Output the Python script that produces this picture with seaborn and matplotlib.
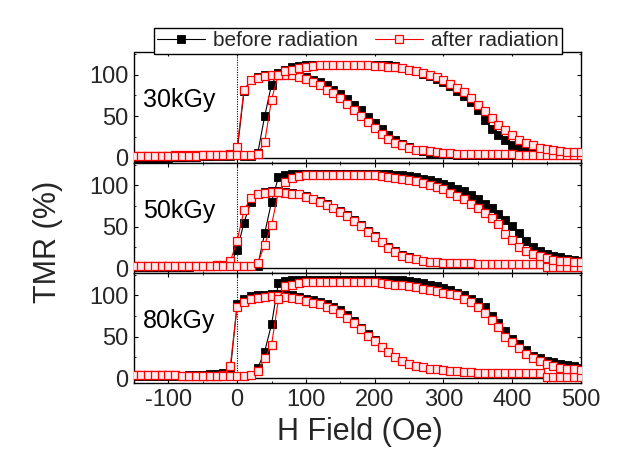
import numpy as np
import pandas as pd
import matplotlib
matplotlib.use("Agg")
import matplotlib.pyplot as plt
from matplotlib.lines import Line2D
from matplotlib.ticker import MultipleLocator
import seaborn as sns

# ---------------- data ----------------
H_field = [-150, -140, -130, -120, -110, -100, -90, -80, -70, -60, -50, -40, -30, -20, -10,
           0, 10, 20, 30, 40, 50, 60, 70, 80, 90, 100, 110, 120, 130, 140, 150, 160, 170, 180, 190,
           200, 210, 220, 230, 240, 250, 260, 270, 280, 290, 300, 310, 320, 330, 340, 350, 360, 370,
           380, 390, 400, 410, 420, 430, 440, 450, 460, 470, 480, 490, 500]

panel_labels = ["30kGy", "50kGy", "80kGy"]
series_labels = ["before radiation", "after radiation"]

# ---- 30 kGy ----
before30_early = [0, 0, 0, 0, 0, 1, 1, 1, 2, 2, 2, 2, 3, 3, 3,
                  8, 80, 93, 97, 99, 100, 101, 101, 100, 99, 97, 94, 91, 87, 82, 77, 71, 64, 57, 49,
                  42, 35, 28, 22, 17, 13, 10, 8, 6.5, 5.5, 5, 4.5, 4, 4, 3.5, 3.5, 3, 3, 3, 3, 3,
                  3, 3, 3, 3, 3, 3, 3, 3, 3, 3]
before30_late = [0, 0, 0, 0, 0, 0, 1, 1, 1, 1, 2, 2, 2, 2, 2,
                 3, 2, 2, 6, 50, 88, 102, 106, 109, 110, 111, 112, 112, 112, 112, 112, 112, 112, 112, 112,
                 112, 112, 111, 110, 108, 106, 104, 101, 98, 95, 91, 86, 80, 74, 67, 58, 46, 35,
                 27, 21.5, 16, 12, 9, 6.5, 5, 4, 3, 3, 3, 3, 3]
after30_early = [2, 2, 2, 2, 2, 2, 3, 3, 3, 3, 4, 4, 4, 4, 5,
                 13, 82, 93, 96, 98, 99, 100, 100, 99, 97, 95, 91, 87, 82, 78, 72, 65, 58, 50, 43,
                 36, 29, 23, 18, 15, 12, 10, 9, 8, 7, 6, 5.5, 5, 5, 5, 5, 5, 4.5,
                 4.5, 4.5, 4.5, 4, 4, 4, 4, 4, 4, 4, 4, 4, 4]
after30_late = [2, 2, 2, 2, 2, 2, 2, 2, 2, 2, 3, 3, 3, 3, 3,
                4, 3, 3, 5, 19, 70, 100, 104, 106, 108, 109, 110, 111, 111, 111, 111, 111, 111, 111, 111,
                110, 110, 109, 109, 108, 106, 104, 102, 100, 97, 93, 89, 84, 79, 72, 64, 56, 48,
                40, 33, 27, 22, 18, 15, 12.5, 11, 9.5, 8.5, 7.5, 7, 7]

# ---- 50 kGy ----
before50_early = [1, 1, 1, 1, 1, 1, 1, 1, 1, 2, 2, 2, 2, 3, 4,
                  22, 55, 80, 89, 92, 93, 93, 92, 91, 90, 87, 84, 81, 77, 73, 69, 64, 58, 52, 45,
                  39, 32, 25, 20, 16, 13, 11, 9, 7.5, 7, 6.5, 6, 5.5, 5.5, 5.5, 5, 5, 5,
                  5, 5, 5, 4.5, 4.5, 4.5, 4.5, 1.5, 1.5, 1.5, 1.5, 1.5, 1.5]
before50_late = [1, 1, 1, 1, 1, 1, 1, 1, 1, 2, 2, 2, 2, 2, 2,
                 2, 2, 2, 3, 42, 80, 110, 113, 114, 114, 114, 114, 114, 114, 114, 114, 114, 114, 114, 114,
                 114, 114, 114, 113, 112, 111, 110, 108, 106, 104, 102, 99, 96, 93, 88, 83, 78, 72,
                 65, 58, 51, 42, 33, 26, 20, 17, 15, 13, 11, 10, 9]
after50_early = [2, 2, 2, 2, 2, 2, 2, 2, 2, 3, 3, 3, 4, 4, 8,
                 33, 70, 85, 89, 91, 92, 92, 91, 90, 89, 86, 83, 80, 76, 72, 68, 63, 57, 51, 44,
                 38, 31, 24, 19, 15, 12.5, 10.5, 9, 7.5, 7, 6.5, 6, 5.5, 5.5, 5.5, 5, 5, 5,
                 5, 5, 5, 4.5, 4.5, 4.5, 4.5, 1.5, 1.5, 1.5, 1.5, 1.5, 1.5]
after50_late = [2, 2, 2, 2, 2, 2, 2, 2, 2, 3, 3, 3, 3, 3, 3,
                3, 3, 3, 6, 28, 52, 92, 104, 109, 111, 112, 112, 112, 112, 112, 112, 112, 112, 112, 112,
                112, 111, 110, 109, 108, 107, 105, 103, 101, 98, 95, 91, 87, 83, 78, 73, 67, 60,
                53, 41, 34, 26, 21, 17, 14, 12, 10, 9, 8.5, 7.5, 7]

# ---- 80 kGy ----
before80_early = [3, 3, 3, 3, 3, 3, 3, 3, 4, 4, 4, 5, 5, 6, 8,
                  90, 96, 99, 100, 101, 102, 102, 101, 100, 98, 96, 94, 92, 89, 86, 82, 76, 69, 61, 53,
                  46, 38, 32, 26, 21, 17.5, 15, 13, 11.5, 10.5, 9.5, 8.5, 8, 7.5, 7, 6.5, 6, 6,
                  6, 5.5, 5.5, 5.5, 5.5, 5.5, 5.5, 1.5, 1.5, 1.5, 1.5, 1.5, 1.5]
before80_late = [3, 3, 3, 3, 3, 3, 3, 3, 3, 3, 3, 3, 3, 3, 3,
                 3, 3, 4, 12, 32, 65, 115, 117, 119, 119, 119, 119, 119, 119, 119, 119, 119, 119, 119, 119,
                 119, 119, 119, 119, 118, 117, 116, 115, 113, 111, 109, 106, 103, 100, 96, 92, 86, 75,
                 67, 57, 47, 41, 34, 27, 24, 21, 19, 17.5, 16, 14, 12]
after80_early = [4, 4, 4, 4, 4, 4, 4, 3, 3, 3, 3, 3, 3, 4, 15,
                 86, 92, 96, 97, 98, 99, 99, 98, 97, 95, 93, 91, 89, 86, 83, 79, 73, 66, 59, 51,
                 45, 37, 31, 25, 20, 17, 15, 13, 11.5, 10.5, 9.5, 8.5, 8, 7.5, 7, 6.5, 6, 6,
                 6, 5.5, 5.5, 5.5, 5.5, 5.5, 5.5, 1.5, 1.5, 1.5, 1.5, 1.5, 1.5]
after80_late = [4, 4, 4, 4, 4, 4, 4, 3, 3, 3, 3, 3, 3, 3, 3,
                3, 3, 4, 8, 24, 40, 95, 111, 113, 115, 116, 116, 116, 116, 116, 116, 116, 116, 116, 116,
                116, 115, 114, 113, 112, 111, 110, 108, 107, 105, 103, 102, 100, 96, 92, 86, 79, 70,
                62, 50, 43, 36, 29, 24, 20, 17, 14.5, 12, 11, 10.5, 10]

panels = [
    (before30_early, before30_late, after30_early, after30_late),
    (before50_early, before50_late, after50_early, after50_late),
    (before80_early, before80_late, after80_early, after80_late),
]
for p in panels:
    for arr in p:
        assert len(arr) == len(H_field), len(arr)

# ---------------- style ----------------
sns.set_style("ticks")
plt.rcParams["font.family"] = ["Liberation Sans", "DejaVu Sans"]
plt.rcParams["axes.linewidth"] = 1.0
plt.rcParams["axes.unicode_minus"] = False

W, Hh = 622, 457
fig = plt.figure(figsize=(W / 100, Hh / 100), dpi=100)

left, right = 134, 581
tops = [(52, 163), (163, 273), (273, 383)]

black_kw = dict(color="black", marker="s", markersize=6.3, markerfacecolor="black",
                markeredgecolor="black", markeredgewidth=0.6, linewidth=0.8)
red_kw = dict(color="red", marker="s", markersize=6.3, markerfacecolor="#fde9e9",
              markeredgecolor="red", markeredgewidth=0.9, linewidth=0.8)

axes = []
for i, (t, b) in enumerate(tops):
    ax = fig.add_axes([left / W, 1 - b / Hh, (right - left) / W, (b - t) / Hh])
    axes.append(ax)
    bE, bL, aE, aL = panels[i]
    ax.axhline(0, color="black", lw=1.0, zorder=1)
    ax.axvline(0, color="black", lw=0.8, ls=(0, (1, 1.2)), zorder=1)
    for vals in (bE, bL):
        sns.lineplot(x=H_field, y=vals, ax=ax, estimator=None, sort=False, legend=False,
                     zorder=3, **black_kw)
    for vals in (aE, aL):
        sns.lineplot(x=H_field, y=vals, ax=ax, estimator=None, sort=False, legend=False,
                     zorder=4, **red_kw)
    ax.set_xlim(-150, 500)
    ax.set_ylim(-6, 127)
    ax.set_yticks([0, 50, 100])
    ax.set_xticks([-100, 0, 100, 200, 300, 400, 500])
    ax.xaxis.set_minor_locator(MultipleLocator(50))
    ax.yaxis.set_minor_locator(MultipleLocator(25))
    ax.tick_params(which="both", direction="in", top=True, right=True, color="black")
    ax.tick_params(which="major", length=3, width=0.8, labelsize=17, pad=4)
    ax.tick_params(which="minor", length=1.5, width=0.6)
    ax.set_xlabel("")
    ax.set_ylabel("")
    for s in ax.spines.values():
        s.set_color("black")
        s.set_linewidth(1.0)
    ax.spines["left"].set_linestyle((0, (1, 1)))
    if i < 2:
        ax.tick_params(labelbottom=False)
    ax.text(-137, 69, panel_labels[i], fontsize=18, ha="left", va="center", color="black")

fig.text(48 / W, 1 - 242 / Hh, "TMR (%)", rotation=90, fontsize=22, ha="center", va="center")
fig.text(360 / W, 1 - 432 / Hh, "H Field (Oe)", fontsize=22, ha="center", va="center")

handles = [Line2D([], [], **black_kw), Line2D([], [], **red_kw)]
leg = fig.legend(handles, series_labels, loc="center", bbox_to_anchor=(358 / W, 1 - 41 / Hh),
                 ncol=2, frameon=True, fancybox=False, edgecolor="black", framealpha=1,
                 fontsize=15, handlelength=2.3, handletextpad=0.4, columnspacing=0.8,
                 borderpad=0.15, borderaxespad=0)
leg.get_frame().set_linewidth(1.0)

fig.savefig("out.png", dpi=100)
